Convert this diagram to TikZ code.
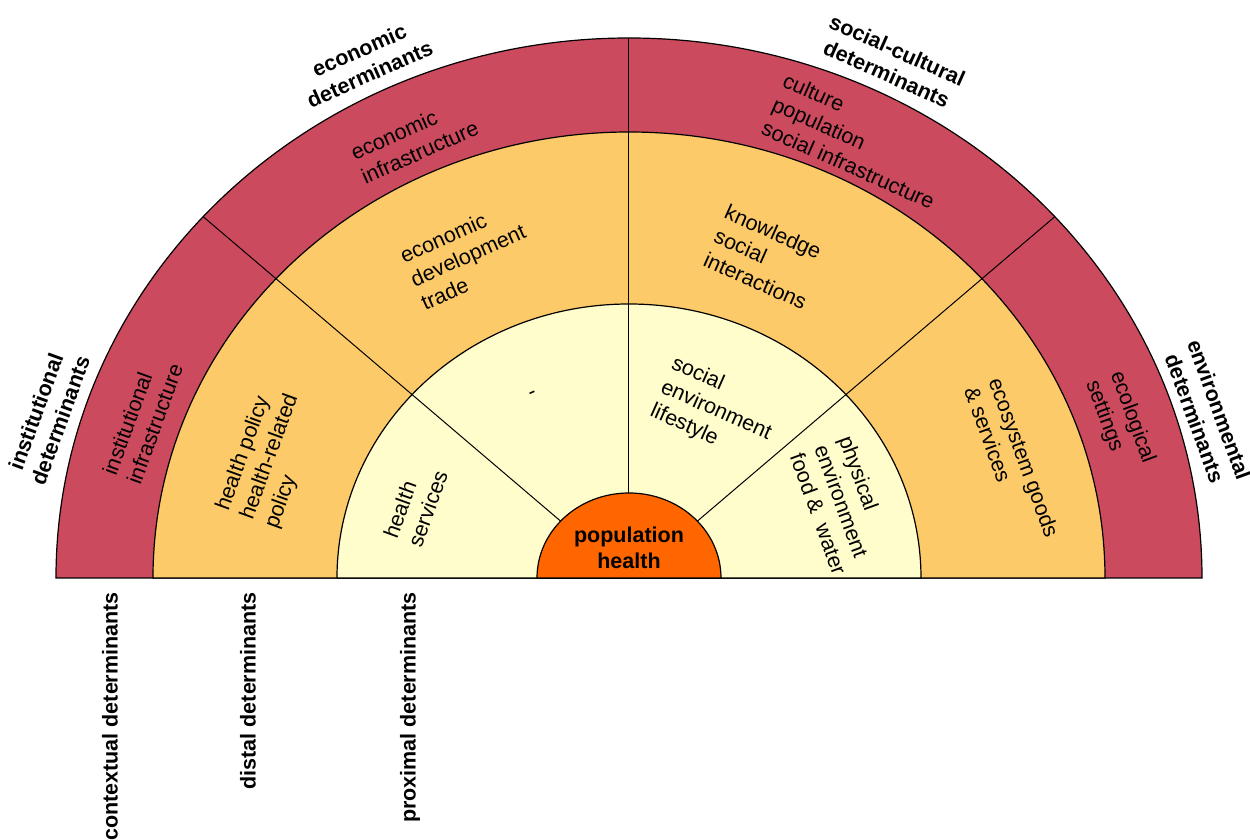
\documentclass[tikz,border=0pt]{standalone}
\usepackage{fontspec}
\setmainfont{Liberation Sans}
\definecolor{ctxred}{RGB}{204,74,93}
\definecolor{distor}{RGB}{253,202,106}
\definecolor{proxyel}{RGB}{255,253,204}
\definecolor{popor}{RGB}{255,102,0}
\begin{document}
\begin{tikzpicture}[x=1pt,y=1pt,
  ring/.style={draw=black,line width=1.2pt},
  divline/.style={draw=black,line width=1pt},
  lab/.style={font=\fontsize{21.5}{26}\selectfont,align=left,inner sep=0pt},
  blab/.style={font=\fontsize{21.5}{26}\selectfont\bfseries,align=center,inner sep=0pt},
  vlab/.style={font=\fontsize{21.5}{26}\selectfont\bfseries,inner sep=0pt,rotate=90,anchor=east}]
\useasboundingbox (-629,-262) rectangle (621,578);
% rings
\draw[ring,fill=ctxred] (-573,0) arc[start angle=180,end angle=0,x radius=573pt,y radius=540pt] -- cycle;
\draw[ring,fill=distor] (-476,0) arc[start angle=180,end angle=0,x radius=476pt,y radius=446pt] -- cycle;
\draw[ring,fill=proxyel] (-292,0) arc[start angle=180,end angle=0,x radius=292pt,y radius=274pt] -- cycle;
% divisions
\coordinate (i138) at (138:92pt and 85pt);
\coordinate (o138) at (138:573pt and 540pt);
\coordinate (i90) at (90:92pt and 85pt);
\coordinate (o90) at (90:573pt and 540pt);
\coordinate (i42) at (42:92pt and 85pt);
\coordinate (o42) at (42:573pt and 540pt);
\draw[divline] (i138) -- (o138);
\draw[divline] (i90) -- (o90);
\draw[divline] (i42) -- (o42);
% centre
\draw[ring,fill=popor] (-92,0) arc[start angle=180,end angle=0,x radius=92pt,y radius=85pt] -- cycle;
\node[blab] (pop) at (0,30.5) {population\\health};
% outer labels
\node[blab,rotate=24] (econdet) at (-264.5,516) {economic\\determinants};
\node[blab,rotate=-24] (socdet) at (263,516) {social-cultural\\determinants};
\node[blab,rotate=70] (instdet) at (-581,162) {institutional\\determinants};
\node[blab,rotate=-70] (envdet) at (578,164) {environmental\\determinants};
% contextual ring
\node[lab,rotate=70] (instinf) at (-486.5,158.5) {institutional\\infrastructure};
\node[lab,rotate=24] (econinf) at (-214.5,438) {economic\\infrastructure};
\node[lab,rotate=-24] (culture) at (230,437) {culture\\population\\social infrastructure};
\node[lab,rotate=-70] (ecoset) at (491,156) {ecological\\settings};
% distal ring
\node[lab,rotate=70] (hpol) at (-359,121) {health policy\\health-related\\policy};
\node[lab,rotate=24] (econdev) at (-161,323) {economic\\development\\trade};
\node[lab,rotate=-24] (know) at (137,321) {knowledge\\social\\interactions};
\node[lab,rotate=-70] (ecosys) at (383,116) {ecosystem goods\\\& services};
% proximal ring
\node[lab,rotate=70] (hserv) at (-213.5,73.5) {health\\services};
\node[lab,rotate=24] (dash) at (-96,183) {-};
\node[lab,rotate=-24] (socenv) at (87,167) {social\\environment\\lifestyle};
\node[lab,rotate=-70] (phys) at (214,73) {physical\\environment\\food \&\ \ water};
% bottom labels
\node[vlab] (ctx) at (-519,-14) {contextual determinants};
\node[vlab] (dist) at (-381,-14) {distal determinants};
\node[vlab] (prox) at (-219,-14) {proximal determinants};
\end{tikzpicture}
\end{document}
